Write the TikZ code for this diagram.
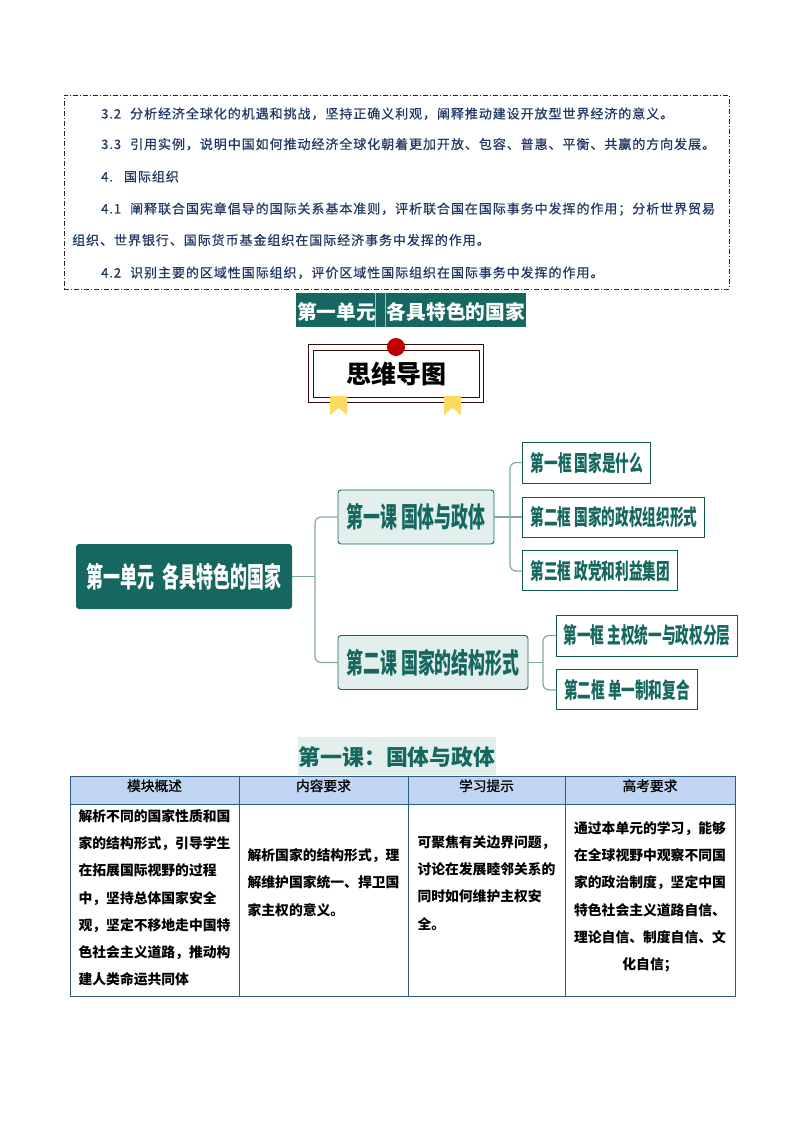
\documentclass[tikz,border=0pt]{standalone}
\usepackage{fontspec}
\setmainfont{Noto Sans CJK SC}
\newfontfamily\yaoqiufont[LetterSpace=7.3, FakeBold=0.6]{Noto Sans CJK SC}
\newfontfamily\toufont[FakeBold=1]{Noto Sans CJK SC}
\usepackage{xcolor}
\usetikzlibrary{arrows.meta, positioning, calc}
\definecolor{shenlv}{HTML}{15675F}
\definecolor{qianlv}{HTML}{E3EFED}
\definecolor{xianlv}{HTML}{7FA8A2}
\definecolor{zilan}{HTML}{1F3864}
\definecolor{biankuang}{HTML}{2F5C85}
\definecolor{biaotoulan}{HTML}{C0D5F2}
\definecolor{zaohong}{HTML}{3A0A0A}
\newcommand{\zhai}[1]{\scalebox{0.605}[1]{#1}}
\newcommand{\zhaixiao}[1]{\scalebox{0.62}[1]{#1}}
\newcommand{\tian}[1]{\rule[-#1]{0pt}{#1}}
\newcommand{\sidai}[1]{\fill[huang] (#1,396) -- ++(17,0) -- ++(0,19) -- ++(-8.5,-7) -- ++(-8.5,7) -- cycle;}
\tikzset{
  yaoqiu/.style={anchor=base west, inner sep=0pt, text=zilan,
    font=\yaoqiufont\fontsize{13}{13}\selectfont},
  biaoti/.style={rectangle, inner sep=0pt, fill=shenlv, text=white,
    font=\fontsize{19.7}{20}\selectfont\bfseries},
  kuangwai/.style={rectangle, draw=zaohong, line width=0.8pt},
  huang/.style={fill=yellow!55!orange!60!white},
  danyuan/.style={rectangle, rounded corners=3pt, fill=shenlv, text=white,
    font=\fontsize{28}{28}\selectfont\bfseries, minimum width=216pt, minimum height=65pt, inner sep=0pt},
  ke/.style={rectangle, rounded corners=3pt, draw=shenlv, line width=0.9pt, fill=qianlv, text=shenlv,
    font=\fontsize{28}{28}\selectfont\bfseries, minimum height=54pt, inner sep=0pt},
  kuang/.style={rectangle, draw=shenlv!85!black, line width=0.9pt, fill=white, text=shenlv,
    font=\fontsize{22}{22}\selectfont\bfseries, minimum height=41pt, inner sep=0pt},
  zhi/.style={color=xianlv, line width=1.2pt, rounded corners=6pt},
  biaotou/.style={rectangle, draw=biankuang, line width=0.9pt, fill=biaotoulan, outer sep=0pt,
    font=\toufont\fontsize{13.7}{14}\selectfont, text height=15pt, text depth=13pt, inner ysep=0pt, anchor=north west},
  danyuange/.style={rectangle, draw=biankuang, line width=0.9pt, minimum height=192pt, inner sep=0pt, outer sep=0pt,
    font=\fontsize{13.8}{27.3}\selectfont\bfseries, anchor=north west}
}
\begin{document}
\begin{tikzpicture}[x=1pt, y=-1pt]
  \useasboundingbox (0,0) rectangle (794,1123);

  \node[rectangle, draw=black!85, line width=0.7pt, dash pattern=on 5pt off 2pt on 1pt off 2pt,
    minimum width=665pt, minimum height=194pt, inner sep=0pt, anchor=north west] (kuangshang) at (64,95) {};
  \node[yaoqiu] (y32) at (101,118.5) {3.2\hspace{9pt}分析经济全球化的机遇和挑战，坚持正确义利观，阐释推动建设开放型世界经济的意义。};
  \node[yaoqiu] (y33) at (101,149) {3.3\hspace{9pt}引用实例，说明中国如何推动经济全球化朝着更加开放、包容、普惠、平衡、共赢的方向发展。};
  \node[yaoqiu] (y4) at (101,181.5) {4.\hspace{11pt}国际组织};
  \node[yaoqiu] (y41) at (101,213.5) {4.1\hspace{9pt}阐释联合国宪章倡导的国际关系基本准则，评析联合国在国际事务中发挥的作用；分析世界贸易};
  \node[yaoqiu] (y41b) at (72,245) {组织、世界银行、国际货币基金组织在国际经济事务中发挥的作用。};
  \node[yaoqiu] (y42) at (101,277.5) {4.2\hspace{9pt}识别主要的区域性国际组织，评价区域性国际组织在国际事务中发挥的作用。};

  \node[biaoti, minimum width=230pt, text height=26pt, text depth=8pt] (danyuanbiaoti) at (411,310)
    {第一单元\hspace{11pt}各具特色的国家};
  \draw[white!60!shenlv, line width=0.5pt] ([xshift=79pt]danyuanbiaoti.north west) -- ([xshift=79pt]danyuanbiaoti.south west);
  \draw[white!60!shenlv, line width=0.5pt] ([xshift=89pt]danyuanbiaoti.north west) -- ([xshift=89pt]danyuanbiaoti.south west);

  \node[kuangwai, minimum width=175pt, minimum height=58pt] (waikuang) at (395.5,373) {};
  \node[kuangwai, minimum width=166pt, minimum height=47pt, font=\fontsize{25}{25}\selectfont\bfseries] (neikuang) at (396,373.5) {思维导图};
  \node[circle, fill=red!75!black, minimum size=18pt, inner sep=0pt] (hongdian) at (396,347) {};
  \sidai{330}
  \sidai{444}

  \node[danyuan] (danyuan1) at (184,576.5) {\zhai{第一单元\ \ 各具特色的国家}};
  \node[ke, minimum width=156pt] (ke1) at (416,517) {\zhai{第一课 国体与政体}};
  \node[ke, minimum width=190pt] (ke2) at (433,662.5) {\zhai{第二课 国家的结构形式}};

  \node[kuang, minimum width=182pt, minimum height=40pt, right=28pt of ke1] (kuang2) {\zhaixiao{第二框 国家的政权组织形式}};
  \node[kuang, minimum width=128pt, above=13pt of kuang2.north west, anchor=south west] (kuang1) {\zhaixiao{第一框 国家是什么}};
  \node[kuang, minimum width=155pt, minimum height=40pt, below=13pt of kuang2.south west, anchor=north west] (kuang3) {\zhaixiao{第三框 政党和利益集团}};
  \node[kuang, minimum width=181pt, anchor=west] (kuang4) at (556,635.5) {\zhaixiao{第一框 主权统一与政权分层}};
  \node[kuang, minimum width=141pt, minimum height=40pt, below=13pt of kuang4.south west, anchor=north west] (kuang5) {\zhaixiao{第二框 单一制和复合}};

  \coordinate (zhu1) at (315,576.5);
  \coordinate (zhu2) at (510,517);
  \coordinate (zhu3) at (543,662.5);
  \draw[zhi] (danyuan1.east) -- (zhu1);
  \draw[zhi] (zhu1) |- (ke1.west);
  \draw[zhi] (zhu1) |- (ke2.west);
  \draw[zhi] (ke1.east) -- (kuang2.west);
  \draw[zhi] (zhu2) |- (kuang1.west);
  \draw[zhi] (zhu2) |- (kuang3.west);
  \draw[zhi] (ke2.east) -- (zhu3);
  \draw[zhi] (zhu3) |- (kuang4.west);
  \draw[zhi] (zhu3) |- (kuang5.west);

  \node[rectangle, fill=qianlv, text=shenlv, inner sep=0pt, minimum width=198pt, text height=28pt, text depth=10pt,
    font=\fontsize{21.9}{22}\selectfont\bfseries] (kebiaoti) at (397,756) {第一课：国体与政体};

  \node[biaotou, minimum width=169pt] (tou1) at (70,776) {模块概述};
  \node[biaotou, minimum width=169pt] (tou2) at (tou1.north east) {内容要求};
  \node[biaotou, minimum width=157pt] (tou3) at (tou2.north east) {学习提示};
  \node[biaotou, minimum width=170pt] (tou4) at (tou3.north east) {高考要求};

  \node[danyuange, minimum width=169pt, align=left] (ge1) at (tou1.south west)
    {解析不同的国家性质和国\\家的结构形式，引导学生\\在拓展国际视野的过程\\中，坚持总体国家安全\\观，坚定不移地走中国特\\色社会主义道路，推动构\\建人类命运共同体\tian{6pt}};
  \node[danyuange, minimum width=169pt, align=left] (ge2) at (tou2.south west)
    {解析国家的结构形式，理\\解维护国家统一、捍卫国\\家主权的意义。\\~\tian{9pt}};
  \node[danyuange, minimum width=157pt, align=left] (ge3) at (tou3.south west)
    {可聚焦有关边界问题，\\讨论在发展睦邻关系的\\同时如何维护主权安\\全。\\~\tian{8pt}};
  \node[danyuange, minimum width=170pt, align=center] (ge4) at (tou4.south west)
    {通过本单元的学习，能够\\在全球视野中观察不同国\\家的政治制度，坚定中国\\特色社会主义道路自信、\\理论自信、制度自信、文\\化自信；\tian{9pt}};
\end{tikzpicture}
\end{document}
